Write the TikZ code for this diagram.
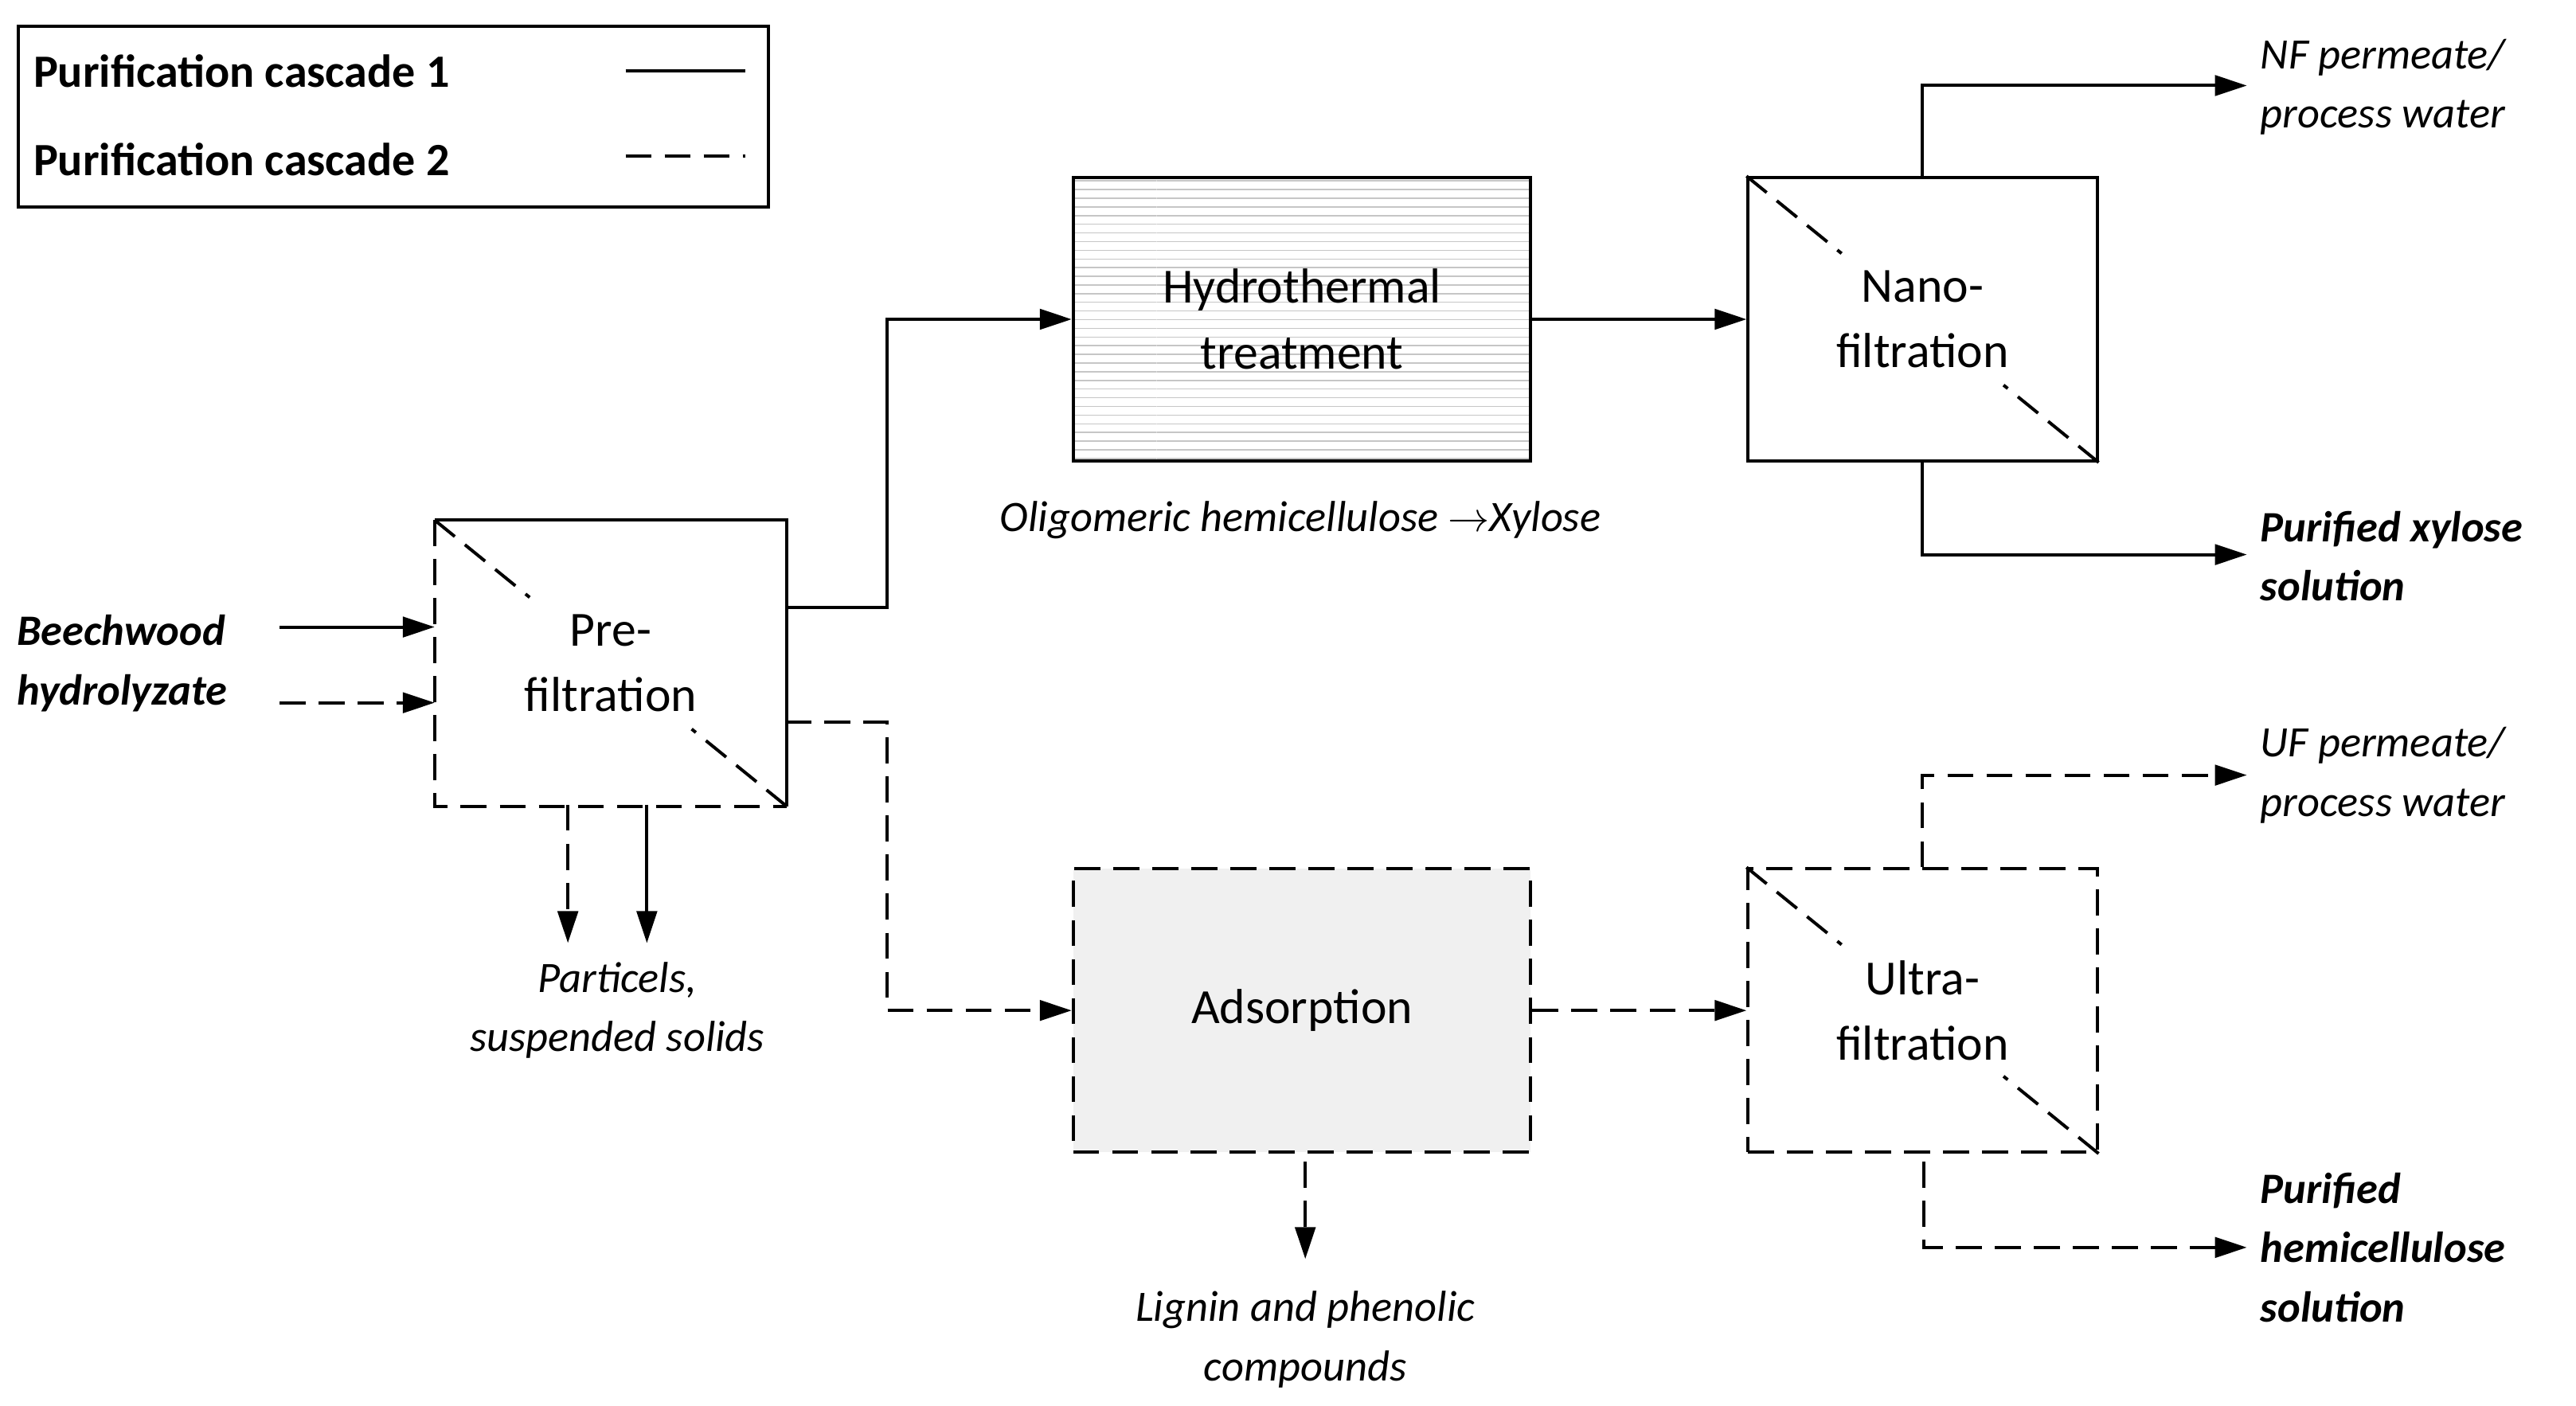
\documentclass[tikz,border=0pt]{standalone}
\usepackage{fontspec}
\setmainfont{Carlito}
\usetikzlibrary{arrows.meta,patterns,calc}
\begin{document}
\begin{tikzpicture}[x=0.02cm,y=-0.02cm,
  ln/.style={line width=1.1pt},
  dsh/.style={ln,dash pattern=on 9pt off 4.5pt},
  arr/.style={-{Triangle[length=11pt,width=7pt]}},
  box/.style={ln,draw,minimum width=0.02cm*212,minimum height=0.02cm*172,font=\fontsize{17}{22.7}\selectfont,align=center,inner sep=0},
  wbox/.style={ln,draw,minimum width=0.02cm*278,minimum height=0.02cm*172,font=\fontsize{17}{22.7}\selectfont,align=center,inner sep=0},
  lbl/.style={font=\fontsize{15}{20.5}\selectfont\itshape,align=center,inner sep=0},
  rlbl/.style={font=\fontsize{15}{20.5}\selectfont\itshape,align=left,anchor=west,inner sep=0},
  blbl/.style={font=\fontsize{15}{20.5}\selectfont\bfseries\itshape,align=left,anchor=west,inner sep=0}]
\useasboundingbox (0,0) rectangle (1565,854);
% legend
\node[ln,draw,minimum width=0.02cm*456,minimum height=0.02cm*110,anchor=north west] (leg) at (10,15) {};
\node[anchor=west,font=\fontsize{16}{20}\selectfont\bfseries,inner sep=0] (l1) at (20,43) {Purification cascade 1};
\node[anchor=west,font=\fontsize{16}{20}\selectfont\bfseries,inner sep=0] (l2) at (20,97) {Purification cascade 2};
\coordinate (s1) at (380,43); \coordinate (e1) at (453,43);
\coordinate (s2) at (380,95); \coordinate (e2) at (453,95);
\draw[ln] (s1) -- (e1);
\draw[dsh] (s2) -- (e2);
% boxes
\node[box,draw=none] (pre) at (371,403) {Pre-\\filtration};
\draw[ln] (pre.north west) -- (pre.north east) -- (pre.south east);
\draw[dsh] (pre.north west) -- (pre.south west) -- (pre.south east);
\draw[dsh] (pre.north west) -- ($(pre.north west)!0.27!(pre.south east)$);
\draw[dsh] (pre.south east) -- ($(pre.south east)!0.27!(pre.north west)$);
\node[wbox,fill=gray!6,pattern=horizontal lines,pattern color=gray!45] (hyd) at (791,194) {};
\node[wbox,draw] at (791,194) {Hydrothermal\\treatment};
\node[box] (nano) at (1168,194) {Nano-\\filtration};
\draw[dsh] (nano.north west) -- ($(nano.north west)!0.27!(nano.south east)$);
\draw[dsh] (nano.south east) -- ($(nano.south east)!0.27!(nano.north west)$);
\node[wbox,dsh,fill=gray!12] (ads) at (791,614) {Adsorption};
\node[box,dsh] (ultra) at (1168,614) {Ultra-\\filtration};
\draw[dsh] (ultra.north west) -- ($(ultra.north west)!0.27!(ultra.south east)$);
\draw[dsh] (ultra.south east) -- ($(ultra.south east)!0.27!(ultra.north west)$);
% labels
\node[blbl] (bw) at (10,403) {Beechwood\\hydrolyzate};
\node[lbl] (olig) at (790,316) {Oligomeric hemicellulose $\rightarrow$Xylose};
\node[lbl] (part) at (375,614) {Particels,\\suspended solids};
\node[lbl] (lig) at (793,814) {Lignin and phenolic\\compounds};
\node[rlbl] (nf) at (1373,53) {NF permeate/\\process water};
\node[blbl] (px) at (1373,338) {Purified xylose\\solution};
\node[rlbl] (uf) at (1373,471) {UF permeate/\\process water};
\node[blbl] (ph) at (1373,758) {Purified\\hemicellulose\\solution};
% connectors
\coordinate (b1) at (170,381); \coordinate (b2) at (170,427);
\draw[ln,arr] (b1) -- (pre.west |- b1);
\draw[dsh,arr] (b2) -- (pre.west |- b2);
\coordinate (p1) at (477,369); \coordinate (p2) at (477,439);
\draw[ln,arr] (p1) -| (539,194) -- (hyd.west);
\draw[dsh,arr] (p2) -| (539,614) -- (ads.west);
\coordinate (d1) at (345,489); \coordinate (d2) at (393,489);
\draw[dsh,arr] (d1) -- (345,573);
\draw[ln,arr] (d2) -- (393,573);
\draw[ln,arr] (hyd.east) -- (nano.west);
\draw[ln,arr] (nano.north) |- (1365,52);
\draw[ln,arr] (nano.south) |- (1365,337);
\draw[dsh,arr] (ads.east) -- (ultra.west);
\draw[dsh,arr] (ultra.north) |- (1365,471);
\draw[dsh,arr] (1169,706) |- (1365,758);
\draw[dsh,arr] (793,706) -- (793,765);
\end{tikzpicture}
\end{document}
